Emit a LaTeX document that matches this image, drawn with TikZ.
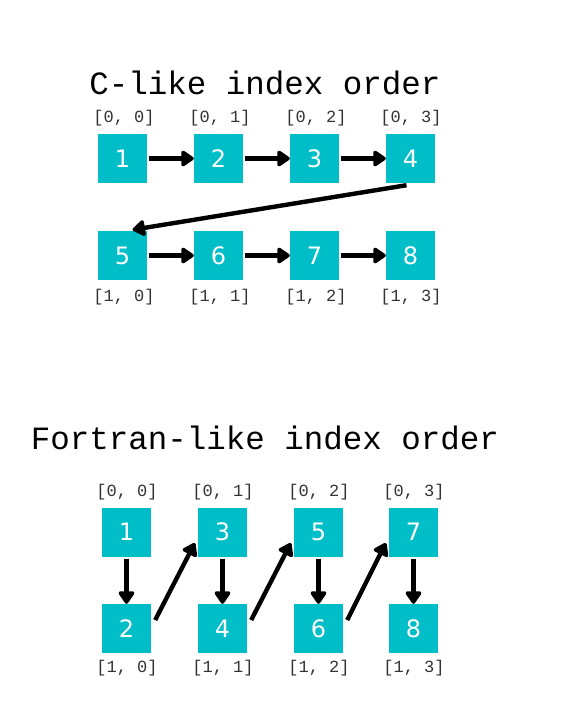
\documentclass[tikz,border=0pt]{standalone}
\usepackage{fontspec}
\setmonofont{Liberation Mono}
\newfontfamily\digitfont{DejaVu Sans}
\usetikzlibrary{arrows.meta,calc}
\definecolor{teal1}{RGB}{0,190,200}
\tikzset{
  cell/.style={fill=teal1,draw=none,minimum width=49pt,minimum height=49pt,inner sep=0pt,
    text=white,font=\digitfont\fontsize{24}{24}\selectfont},
  idx/.style={font=\ttfamily\fontsize{17}{17}\selectfont,text=black!80,inner sep=0pt},
  ttl/.style={font=\ttfamily\fontsize{32.5}{32.5}\selectfont,inner sep=0pt},
  arr/.style={line width=4.4pt,-{Triangle[length=14pt,width=18pt,round]}}
}
\begin{document}
\begin{tikzpicture}[x=1pt,y=-1pt]
\useasboundingbox[fill=white] (0,0) rectangle (585,718);
% C-like
\node[ttl] (t1) at (265,83) {C-like index order};
\foreach \i/\x in {1/122.5,2/218.5,3/314.5,4/410.5}{
  \node[cell] (c\i) at (\x,158.5) {\i};
}
\foreach \i/\x in {5/122.5,6/218.5,7/314.5,8/410.5}{
  \node[cell] (c\i) at (\x,255.5) {\i};
}
\foreach \j/\x in {0/124,1/220,2/316,3/411}{
  \node[idx] (ct\j) at (\x,118) {[0, \j]};
  \node[idx] (cb\j) at (\x,297) {[1, \j]};
}
\draw[arr] ($(c1.east)+(2,0)$) -- (c2.west);
\draw[arr] ($(c2.east)+(2,0)$) -- (c3.west);
\draw[arr] ($(c3.east)+(2,0)$) -- (c4.west);
\draw[arr] ($(c4.south)+(-4,2)$) -- ($(c5.north)+(10,-1)$);
\draw[arr] ($(c5.east)+(2,0)$) -- (c6.west);
\draw[arr] ($(c6.east)+(2,0)$) -- (c7.west);
\draw[arr] ($(c7.east)+(2,0)$) -- (c8.west);
% Fortran-like
\node[ttl] (t2) at (265,438) {Fortran-like index order};
\foreach \i/\x in {1/126.5,3/222.5,5/318.5,7/413.5}{
  \node[cell] (f\i) at (\x,532) {\i};
}
\foreach \i/\x in {2/126.5,4/222.5,6/318.5,8/413.5}{
  \node[cell] (f\i) at (\x,628.5) {\i};
}
\foreach \j/\x in {0/127,1/223,2/319,3/414}{
  \node[idx] (ft\j) at (\x,492) {[0, \j]};
  \node[idx] (fb\j) at (\x,668) {[1, \j]};
}
\draw[arr] ($(f1.south)+(0,2)$) -- (f2.north);
\draw[arr] ($(f3.south)+(0,2)$) -- (f4.north);
\draw[arr] ($(f5.south)+(0,2)$) -- (f6.north);
\draw[arr] ($(f7.south)+(0,2)$) -- (f8.north);
\draw[arr] ($(f2.east)+(4,-8.5)$) -- ($(f3.west)+(-3,11)$);
\draw[arr] ($(f4.east)+(4,-8.5)$) -- ($(f5.west)+(-3,11)$);
\draw[arr] ($(f6.east)+(4,-8.5)$) -- ($(f7.west)+(-3,11)$);
\end{tikzpicture}
\end{document}
